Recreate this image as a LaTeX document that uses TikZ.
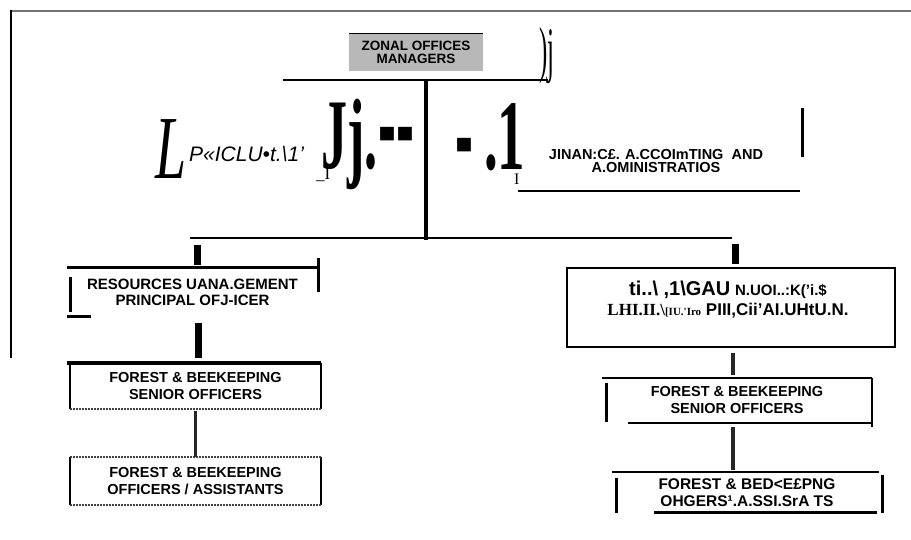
\documentclass[tikz,border=0pt]{standalone}
\usepackage{fontspec}
\usepackage{graphicx}
\setmainfont{Liberation Sans}
\newfontfamily\romanfont{Liberation Serif}

\begin{document}
\begin{tikzpicture}[
    x=1pt,
    y=-1pt,
    unit/.style={
        rectangle,
        inner sep=0pt,
        align=center,
        font=\bfseries\fontsize{14.5}{17}\selectfont
    },
    link/.style={
        line width=1.6pt
    },
    trunk/.style={
        line width=3pt
    },
    stub/.style={
        line width=7pt
    },
    rough/.style={
        line width=2pt,
        black!75,
        dash pattern=on 2pt off 1pt
    },
    feed/.style={
        line width=3.5pt,
        black!85
    },
    glyph/.style={
        inner sep=0pt,
        anchor=base west
    },
    bigglyph/.style={
        glyph,
        font=\romanfont\bfseries\fontsize{100}{100}\selectfont
    },
    block/.style={
        inner sep=0pt,
        anchor=north west,
        font=\bfseries\fontsize{54}{54}\selectfont
    }
]
\useasboundingbox (0,0) rectangle (911,539);

\draw[black!55, line width=1.5pt] (10,11) -- (911,11);
\draw[line width=2pt] (11,10) -- (11,358);


\node[unit, fill=black!28, minimum width=134, minimum height=37,
      font=\bfseries\fontsize{13.5}{13}\selectfont] (zonal) at (416,52)
    {ZONAL OFFICES\\MANAGERS};
\draw[link] (zonal.north west) -- (zonal.north east);

\node[glyph] (zmark) at (539,70)
    {\scalebox{0.4}[1]{\romanfont\fontsize{62}{62}\selectfont )j}};

\coordinate (zbarL) at (283,80);
\coordinate (zbarR) at (548,80);
\coordinate (split) at (426,80);
\coordinate (branch) at (426,240);

\draw[link] (zbarL) -- (zbarR);
\draw[line width=4pt] (split) -- (branch);


\node[glyph, font=\romanfont\itshape\fontsize{90}{90}\selectfont] (bigL) at (155,178)
    {\scalebox{0.62}[1]{L}};
\node[glyph, font=\itshape\fontsize{21}{21}\selectfont] (pick) at (189,161)
    {P«ICLU•t.\textbackslash 1'};
\node[bigglyph] (jj) at (321,168)
    {\scalebox{0.52}[1]{Jj.}};
\node[block] (dashes) at (378,127)
    {\scalebox{1}[2.1]{-{}-}};
\node[glyph, font=\romanfont\fontsize{17}{17}\selectfont] (tickJ) at (316,179)
    {\_I};
\node[block] (dash) at (455,138)
    {\scalebox{1}[2.1]{-}};
\node[bigglyph] (one) at (484,169)
    {\scalebox{0.55}[1]{.1}};
\node[glyph, font=\romanfont\fontsize{16}{16}\selectfont] (tickOne) at (514,184)
    {I};


\node[unit, font=\bfseries\fontsize{14.5}{13}\selectfont] (finance) at (656,161)
    {JINAN:C£. A.CCOImTING\ \ AND\\A.OMINISTRATIOS};
\draw[link] (518,191) -- (800,191);
\draw[trunk] (802,108) -- (802,157);


\draw[link] (190,238) -- (732,238);


\node[unit, minimum width=251, minimum height=48,
      font=\bfseries\fontsize{15}{16}\selectfont] (resLeft) at (192.5,292)
    {RESOURCES UANA.GEMENT\\PRINCIPAL OFJ-ICER};
\draw[trunk] (resLeft.north west) -- (resLeft.north east);
\draw[trunk] (resLeft.north east) ++(0,-10) -- ++(0,34);
\draw[trunk] (resLeft.north west) ++(4,9) -- ++(0,35);
\draw[trunk] (resLeft.south west) -- ++(24,0);

\node[unit, minimum width=251, minimum height=46] (senLeft) at (195.5,386)
    {FOREST \& BEEKEEPING\\SENIOR OFFICERS};
\draw[link] (senLeft.south west) -- (senLeft.north west);
\draw[link] (senLeft.north east) -- (senLeft.south east);
\draw[line width=4pt] ([xshift=-3pt]senLeft.north west) -- (senLeft.north east);
\draw[rough] (senLeft.south west) -- (senLeft.south east);

\node[unit, minimum width=251, minimum height=48] (asstLeft) at (195.5,481)
    {FOREST \& BEEKEEPING\\OFFICERS / ASSISTANTS};
\draw[link] (asstLeft.south west) -- (asstLeft.north west);
\draw[link] (asstLeft.north east) -- (asstLeft.south east);
\draw[rough] (asstLeft.north west) -- (asstLeft.north east);
\draw[rough] (asstLeft.south west) -- (asstLeft.south east);

\draw[stub] ([xshift=4.5pt,yshift=3pt]resLeft.north) -- ++(0,-20);
\draw[stub] ([xshift=5.5pt,yshift=-7pt]resLeft.south) -- ([xshift=2.5pt,yshift=5pt]senLeft.north);
\draw[feed] ([yshift=-2pt]senLeft.south) -- (asstLeft.north);


\node[draw, line width=2pt, minimum width=328, minimum height=79] (mgrRight) at (731,307.5) {};
\node[unit, font=\bfseries\fontsize{17}{20}\selectfont] (mgrText) at (728,300)
    {{\fontsize{20}{20}\selectfont ti..\textbackslash\ ,1\textbackslash GAU}
     {\fontsize{15}{15}\selectfont N.UOI..:K('i.\$}\\
     {\romanfont LHI.II.\textbackslash{\fontsize{11}{11}\selectfont[IU.'Iro}}
     PIII,Cii'AI.UHtU.N.};

\node[unit, minimum width=270, minimum height=45] (senRight) at (737,400.5)
    {FOREST \& BEEKEEPING\\SENIOR OFFICERS};
\draw[link] (senRight.north west) -- (senRight.north east);
\draw[link] (senRight.north east) -- ++(0,49);
\draw[link] (senRight.south east) -- ++(-244,0);
\draw[trunk] (senRight.north west) ++(5,5) -- ++(0,39);

\node[unit, minimum width=270, minimum height=41,
      font=\bfseries\fontsize{15.5}{17}\selectfont] (asstRight) at (747,492.5)
    {FOREST \& BED<E£PNG\\OHGERS¹.A.SSI.SrA TS};
\draw[link] (asstRight.north west) -- ++(267,0);
\draw[trunk] (asstRight.north west) ++(5,6) -- ++(0,35);
\draw[trunk] (asstRight.north east) ++(0,3) -- ++(0,38);
\draw[trunk] (asstRight.south west) ++(42,-1) -- ++(223,0);

\draw[stub] ([xshift=4pt,yshift=3pt]mgrRight.north) -- ++(0,-20);
\draw[feed] ([xshift=2pt,yshift=-5pt]mgrRight.south) -- ([xshift=-4pt,yshift=3pt]senRight.north);
\draw[feed] ([xshift=-4pt,yshift=-4pt]senRight.south) -- ([xshift=-14pt,yshift=2pt]asstRight.north);

\end{tikzpicture}
\end{document}
